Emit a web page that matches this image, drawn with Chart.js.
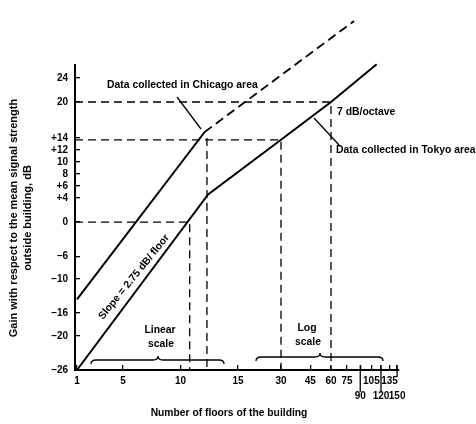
<!DOCTYPE html>
<html>
<head>
<meta charset="utf-8">
<script src="https://cdn.jsdelivr.net/npm/chart.js@4.4.0/dist/chart.umd.min.js"></script>
<style>
  html, body { margin: 0; padding: 0; background: #fff; }
  #wrap { width: 476px; height: 424px; position: relative; }
</style>
</head>
<body>
<div id="wrap"><canvas id="chart"></canvas></div>
<script>
// values: x = number of floors, y = gain in dB
const AXIS_FLOOR = 0.826;               // where the y axis sits on the floor scale
const chicagoFloors = [1, 12.1];
const chicagoGain = [-13.6, 15];
const chicagoExtFloors = [12.1, 82.6];  // dashed extrapolation
const chicagoExtGain = [15, 33.5];
const tokyoFloors = [1, 12.4, 30, 60, 113];
const tokyoGain = [-26, 4.6, 13.7, 20, 26.3];

// dashed read-off lines
const guideFloors = [[AXIS_FLOOR, 60, 60], [AXIS_FLOOR, 30, 30], [AXIS_FLOOR, 10.8, 10.8], [12.3, 12.3]];
const guideGain = [[20, 20, -26], [13.7, 13.7, -26], [0, 0, -26], [14, -26]];

const xTickFloors = [1, 5, 10, 15, 30, 45, 60, 75, 90, 105, 120, 135, 150];
const xTickLabels = ['1', '5', '10', '15', '30', '45', '60', '75', ['', '90'], '105', ['', '120'], '135', ['', '150']];
const yTickValues = [24, 20, 14, 12, 10, 8, 6, 4, 0, -6, -10, -16, -20, -26];
const yTickLabels = ['24', '20', '+14', '+12', '10', '8', '+6', '+4', '0', '\u20136', '\u201310', '\u201316', '\u201320', '\u201326'];

// the figure is linear up to 15 floors, then logarithmic
function fx(n) {
  if (n <= 15) return (n - 1) * 11.5;
  if (n <= 30) return 161 + 43 * Math.log2(n / 15);
  return 204 + 50 * Math.log2(n / 30);
}
// the printed dB axis is a bit stretched above zero
function fy(d) { return d >= 0 ? d * 6.0 : d * 5.69; }

function pts(fl, g) { return fl.map((n, i) => ({ x: fx(n), y: fy(g[i]) })); }

const FONT = "'Liberation Sans', Arial, sans-serif";

const lineDs = (data, width, dash) => ({
  data, showLine: true, borderColor: '#000', borderWidth: width, borderDash: dash || [],
  pointRadius: 0, fill: false, clip: false, tension: 0
});

const datasets = [
  lineDs(pts(tokyoFloors, tokyoGain), 2),
  lineDs(pts(chicagoFloors, chicagoGain), 2),
  lineDs(pts(chicagoExtFloors, chicagoExtGain), 1.8, [9, 5]),
  ...guideFloors.map((fl, i) => lineDs(pts(fl, guideGain[i]), 1.3, [8, 5]))
];

function brace(ctx, x1, xp, x2, y) {
  ctx.beginPath();
  ctx.moveTo(x1, y + 4);
  ctx.quadraticCurveTo(x1, y, x1 + 5, y);
  ctx.lineTo(xp - 5, y);
  ctx.quadraticCurveTo(xp, y, xp, y - 4);
  ctx.quadraticCurveTo(xp, y, xp + 5, y);
  ctx.lineTo(x2 - 5, y);
  ctx.quadraticCurveTo(x2, y, x2, y + 4);
  ctx.stroke();
}

const notes = {
  id: 'notes',
  afterDraw(chart) {
    const ctx = chart.ctx;
    const xs = chart.scales.x;
    ctx.save();
    ctx.fillStyle = '#000';
    ctx.strokeStyle = '#000';
    ctx.lineWidth = 1.3;
    ctx.textBaseline = 'middle';

    // long tick marks under the staggered labels
    [[90, 392], [120, 392], [150, 377]].forEach(([n, y2]) => {
      const x = xs.getPixelForValue(fx(n));
      ctx.beginPath(); ctx.moveTo(x, 365); ctx.lineTo(x, y2); ctx.stroke();
    });

    // leader lines
    ctx.beginPath(); ctx.moveTo(177, 97); ctx.lineTo(201, 129); ctx.stroke();
    ctx.beginPath(); ctx.moveTo(314, 118); ctx.lineTo(340, 146); ctx.stroke();

    // scale braces
    brace(ctx, 91, 158, 224, 360);
    brace(ctx, 256, 320, 383, 357);

    ctx.font = 'bold 10.4px ' + FONT;
    ctx.textAlign = 'left';
    ctx.fillText('Data collected in Chicago area', 107, 85);
    ctx.fillText('7 dB/octave', 337, 112);
    ctx.fillText('Data collected in Tokyo area', 336, 150);
    ctx.textAlign = 'center';
    ctx.fillText('Linear', 160, 330);
    ctx.fillText('scale', 161, 344);
    ctx.fillText('Log', 307, 328);
    ctx.fillText('scale', 308, 342);

    ctx.save();
    ctx.translate(134, 277);
    ctx.rotate(-51 * Math.PI / 180);
    ctx.fillText('Slope = 2.75 dB/ floor', 0, 0);
    ctx.restore();

    // axis titles
    ctx.font = 'bold 10.3px ' + FONT;
    ctx.fillText('Number of floors of the building', 229, 413);
    ctx.font = 'bold 11px ' + FONT;
    ctx.save();
    ctx.translate(14, 218);
    ctx.rotate(-Math.PI / 2);
    ctx.fillText('Gain with respect to the mean signal strength', 0, 0);
    ctx.fillText('outside building, dB', 0, 14);
    ctx.restore();

    ctx.restore();
  }
};

new Chart(document.getElementById('chart'), {
  type: 'scatter',
  data: { datasets },
  options: {
    responsive: true,
    maintainAspectRatio: false,
    animation: false,
    layout: { padding: { top: 65, right: 77, left: 0, bottom: 0 } },
    plugins: { legend: { display: false }, tooltip: { enabled: false } },
    scales: {
      x: {
        type: 'linear',
        min: fx(AXIS_FLOOR),
        max: 322,
        afterFit: s => { s.height = 54; },
        afterBuildTicks: s => { s.ticks = xTickFloors.map(n => ({ value: fx(n) })); },
        grid: { drawOnChartArea: false, drawTicks: true, tickLength: -5, color: '#000', lineWidth: 1.3 },
        border: { display: true, color: '#000', width: 2 },
        ticks: {
          autoSkip: false, maxRotation: 0, padding: 9, color: '#000',
          font: { family: FONT, size: 10, weight: 'bold', lineHeight: 1.45 },
          callback: (v, i) => xTickLabels[i]
        }
      },
      y: {
        type: 'linear',
        min: fy(-26),
        max: 157,
        afterFit: s => { s.width = 75; },
        afterBuildTicks: s => { s.ticks = yTickValues.map(d => ({ value: fy(d) })); },
        grid: { drawOnChartArea: false, drawTicks: true, tickLength: -5, color: '#000', lineWidth: 1.3 },
        border: { display: true, color: '#000', width: 2 },
        ticks: {
          autoSkip: false, padding: 12, color: '#000',
          font: { family: FONT, size: 10, weight: 'bold' },
          callback: (v, i) => yTickLabels[i]
        }
      }
    }
  },
  plugins: [notes]
});
</script>
</body>
</html>
